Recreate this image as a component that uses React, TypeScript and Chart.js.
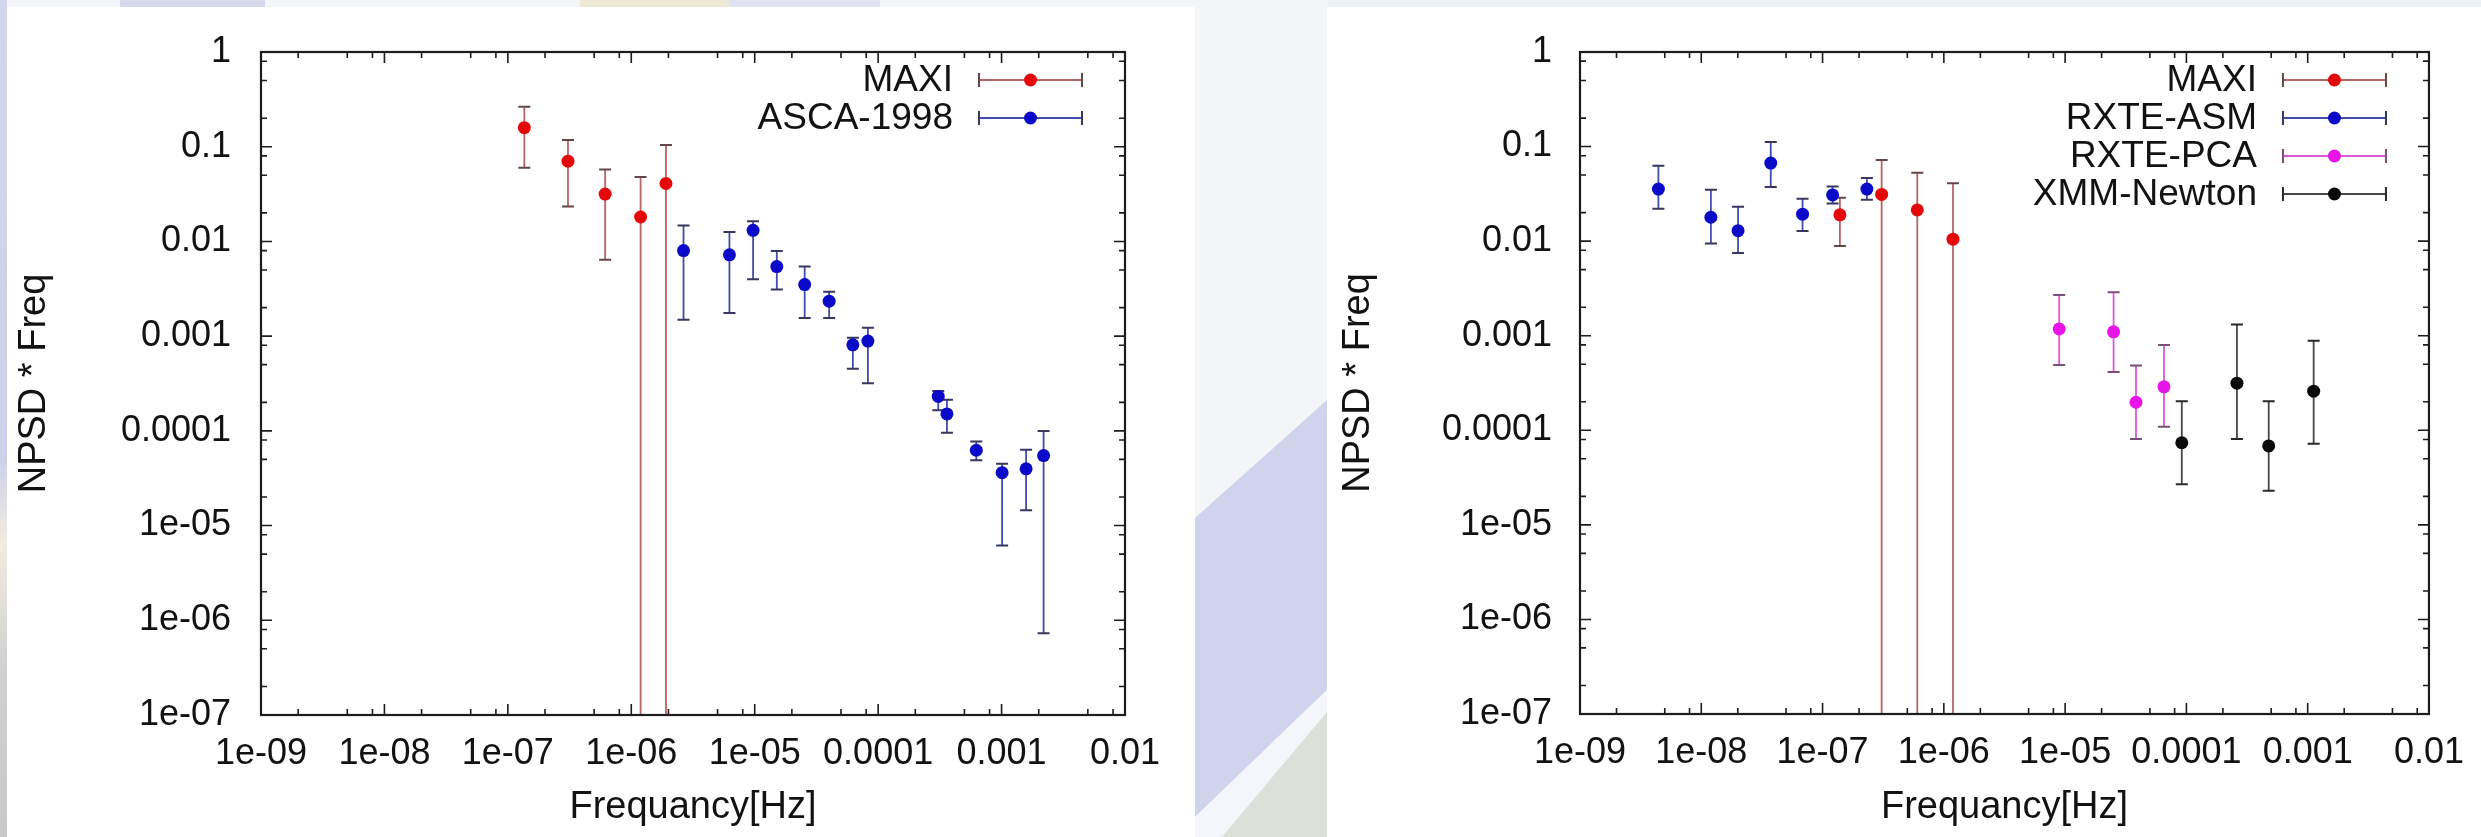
import React, { useEffect, useRef } from 'react';
import { Chart, registerables } from 'chart.js';

Chart.register(...registerables);

// ---------- axis ticks ----------
const xTickValues = [1e-9, 1e-8, 1e-7, 1e-6, 1e-5, 1e-4, 1e-3, 1e-2];
const xTickLabels = ['1e-09', '1e-08', '1e-07', '1e-06', '1e-05', '0.0001', '0.001', '0.01'];
const yTickValues = [1e-7, 1e-6, 1e-5, 1e-4, 1e-3, 1e-2, 1e-1, 1];
const yTickLabels = ['1e-07', '1e-06', '1e-05', '0.0001', '0.001', '0.01', '0.1', '1'];
const minorTickFactors = [2, 5, 8];

// Error bars whose lower end falls below the plotted range are given this value.
const OFF_SCALE_LOW = 1e-10;

// ---------- left panel ----------
const leftMaxiFreq = [1.36e-7, 3.07e-7, 6.14e-7, 1.19e-6, 1.91e-6];
const leftMaxiValue = [0.159, 0.0704, 0.0316, 0.0181, 0.0409];
const leftMaxiHigh = [0.264, 0.118, 0.0573, 0.0478, 0.104];
const leftMaxiLow = [0.06, 0.0234, 0.00642, OFF_SCALE_LOW, OFF_SCALE_LOW];

const ascaFreq = [2.65e-6, 6.24e-6, 9.7e-6, 1.51e-5, 2.54e-5, 4.01e-5, 6.24e-5, 8.26e-5, 3.07e-4, 3.61e-4, 6.24e-4, 1.01e-3, 1.58e-3, 2.19e-3];
const ascaValue = [0.008, 0.00722, 0.0131, 0.00543, 0.0035, 0.00234, 0.00081, 0.000887, 0.000231, 0.000151, 6.24e-5, 3.62e-5, 3.97e-5, 5.48e-5];
const ascaHigh = [0.0147, 0.0126, 0.0163, 0.0079, 0.00543, 0.00295, 0.00096, 0.00123, 0.000263, 0.000213, 7.7e-5, 4.5e-5, 6.3e-5, 9.95e-5];
const ascaLow = [0.00149, 0.00176, 0.00398, 0.00311, 0.00155, 0.00155, 0.000452, 0.000319, 0.000165, 9.57e-5, 4.9e-5, 6.15e-6, 1.45e-5, 7.3e-7];

// ---------- right panel ----------
const rightMaxiFreq = [1.39e-7, 3.07e-7, 6.04e-7, 1.19e-6];
const rightMaxiValue = [0.019, 0.0312, 0.0214, 0.0105];
const rightMaxiHigh = [0.0288, 0.0722, 0.053, 0.0409];
const rightMaxiLow = [0.00888, OFF_SCALE_LOW, OFF_SCALE_LOW, OFF_SCALE_LOW];

const asmFreq = [4.43e-9, 1.2e-8, 2.01e-8, 3.74e-8, 6.84e-8, 1.21e-7, 2.32e-7];
const asmValue = [0.0355, 0.0179, 0.0129, 0.0669, 0.0193, 0.0308, 0.0355];
const asmHigh = [0.0627, 0.035, 0.0231, 0.112, 0.0281, 0.0378, 0.0465];
const asmLow = [0.022, 0.00947, 0.0075, 0.0373, 0.0128, 0.025, 0.0274];

const pcaFreq = [8.93e-6, 2.51e-5, 3.84e-5, 6.53e-5];
const pcaValue = [0.00118, 0.0011, 0.000198, 0.000288];
const pcaHigh = [0.0027, 0.00288, 0.000483, 0.0008];
const pcaLow = [0.000489, 0.000413, 8.09e-5, 0.000109];

const xmmFreq = [9.16e-5, 2.61e-4, 4.77e-4, 1.12e-3];
const xmmValue = [7.38e-5, 0.000315, 6.84e-5, 0.000259];
const xmmHigh = [0.000203, 0.00131, 0.000203, 0.000887];
const xmmLow = [2.69e-5, 8.09e-5, 2.3e-5, 7.2e-5];

// ---------- styles ----------
const FONT = '"Liberation Sans", Arial, Helvetica, sans-serif';
const TEXT = '#121212';
const RED = { point: 'rgb(228,8,8)', bar: 'rgb(184,100,100)', cap: 'rgb(100,70,70)' };
const BLUE = { point: 'rgb(10,10,200)', bar: 'rgb(66,76,170)', cap: 'rgb(55,55,95)' };
const MAGENTA = { point: 'rgb(232,20,232)', bar: 'rgb(218,90,218)', cap: 'rgb(120,80,120)' };
const BLACK = { point: 'rgb(10,10,10)', bar: 'rgb(70,70,70)', cap: 'rgb(40,40,40)' };

function makeSeries(label: string, freq: number[], value: number[], low: number[], high: number[], c: any) {
  return {
    label,
    data: freq.map((f, i) => ({ x: f, y: value[i], low: low[i], high: high[i] })),
    pointRadius: 6.5,
    pointHoverRadius: 6.5,
    pointBorderWidth: 0,
    pointBackgroundColor: c.point,
    borderColor: c.point,
    backgroundColor: c.point,
    showLine: false,
    barColor: c.bar,
    capColor: c.cap,
  };
}

const errorBarPlugin = {
  id: 'errorBars',
  beforeDatasetsDraw(chart: any) {
    const { ctx, chartArea, scales } = chart;
    const xs = scales.x;
    const ys = scales.y;
    ctx.save();
    ctx.beginPath();
    ctx.rect(chartArea.left, chartArea.top, chartArea.right - chartArea.left, chartArea.bottom - chartArea.top);
    ctx.clip();
    chart.data.datasets.forEach((ds: any) => {
      ds.data.forEach((p: any) => {
        const px = xs.getPixelForValue(p.x);
        const pLow = ys.getPixelForValue(p.low);
        const pHigh = ys.getPixelForValue(p.high);
        ctx.strokeStyle = ds.barColor;
        ctx.lineWidth = 1.8;
        ctx.beginPath();
        ctx.moveTo(px, pLow);
        ctx.lineTo(px, pHigh);
        ctx.stroke();
        ctx.strokeStyle = ds.capColor;
        ctx.lineWidth = 2;
        ctx.beginPath();
        ctx.moveTo(px - 6, pHigh);
        ctx.lineTo(px + 6, pHigh);
        ctx.moveTo(px - 6, pLow);
        ctx.lineTo(px + 6, pLow);
        ctx.stroke();
      });
    });
    ctx.restore();
  },
};

const framePlugin = {
  id: 'gnuFrame',
  afterDraw(chart: any) {
    const { ctx, chartArea, scales } = chart;
    const { left, right, top, bottom } = chartArea;
    const xs = scales.x;
    const ys = scales.y;
    ctx.save();
    ctx.strokeStyle = '#1c1c1c';
    ctx.lineWidth = 2.2;
    ctx.strokeRect(left, top, right - left, bottom - top);
    ctx.lineWidth = 1.6;
    ctx.beginPath();
    const tickX = (v: number, len: number) => {
      const px = xs.getPixelForValue(v);
      if (px < left - 0.5 || px > right + 0.5) return;
      ctx.moveTo(px, bottom);
      ctx.lineTo(px, bottom - len);
      ctx.moveTo(px, top);
      ctx.lineTo(px, top + len);
    };
    const tickY = (v: number, len: number) => {
      const py = ys.getPixelForValue(v);
      if (py < top - 0.5 || py > bottom + 0.5) return;
      ctx.moveTo(left, py);
      ctx.lineTo(left + len, py);
      ctx.moveTo(right, py);
      ctx.lineTo(right - len, py);
    };
    xTickValues.forEach((v, i) => {
      tickX(v, 11);
      if (i < xTickValues.length - 1) minorTickFactors.forEach((f) => tickX(v * f, 6));
    });
    yTickValues.forEach((v, i) => {
      tickY(v, 11);
      if (i < yTickValues.length - 1) minorTickFactors.forEach((f) => tickY(v * f, 6));
    });
    ctx.stroke();
    ctx.restore();
  },
};

const keyPlugin = {
  id: 'gnuKey',
  afterDraw(chart: any) {
    const { ctx, chartArea } = chart;
    ctx.save();
    ctx.font = `37px ${FONT}`;
    ctx.textAlign = 'right';
    ctx.textBaseline = 'middle';
    chart.data.datasets.forEach((ds: any, i: number) => {
      const y = chartArea.top + 28 + i * 38;
      const textRight = chartArea.right - 172;
      const x0 = chartArea.right - 146;
      const x1 = chartArea.right - 43;
      ctx.fillStyle = TEXT;
      ctx.fillText(ds.label, textRight, y + 1);
      ctx.strokeStyle = ds.barColor;
      ctx.lineWidth = 2;
      ctx.beginPath();
      ctx.moveTo(x0, y);
      ctx.lineTo(x1, y);
      ctx.stroke();
      ctx.strokeStyle = ds.capColor;
      ctx.beginPath();
      ctx.moveTo(x0, y - 7);
      ctx.lineTo(x0, y + 7);
      ctx.moveTo(x1, y - 7);
      ctx.lineTo(x1, y + 7);
      ctx.stroke();
      ctx.fillStyle = ds.pointBackgroundColor;
      ctx.beginPath();
      ctx.arc((x0 + x1) / 2, y, 6.5, 0, Math.PI * 2);
      ctx.fill();
    });
    ctx.restore();
  },
};

function makeConfig(datasets: any[], geo: any) {
  return {
    type: 'scatter',
    data: { datasets },
    plugins: [errorBarPlugin, framePlugin, keyPlugin],
    options: {
      animation: false,
      responsive: false,
      maintainAspectRatio: false,
      events: [],
      layout: { padding: { left: 0, right: geo.padRight, top: geo.padTop, bottom: 0 } },
      plugins: { legend: { display: false }, tooltip: { enabled: false } },
      scales: {
        x: {
          type: 'logarithmic',
          position: 'bottom',
          min: 1e-9,
          max: 1e-2,
          grid: { display: false, drawTicks: false },
          border: { display: false },
          afterBuildTicks: (s: any) => {
            s.ticks = xTickValues.map((v) => ({ value: v }));
          },
          afterFit: (s: any) => {
            s.height = geo.xHeight;
          },
          ticks: {
            autoSkip: false,
            maxRotation: 0,
            minRotation: 0,
            padding: 17,
            color: TEXT,
            font: { family: FONT, size: 36 },
            callback: (_v: any, i: number) => xTickLabels[i],
          },
          title: {
            display: true,
            text: 'Frequancy[Hz]',
            color: TEXT,
            font: { family: FONT, size: 38 },
            padding: { top: 0, bottom: 7 },
          },
        },
        y: {
          type: 'logarithmic',
          position: 'left',
          min: 1e-7,
          max: 1,
          grid: { display: false, drawTicks: false },
          border: { display: false },
          afterBuildTicks: (s: any) => {
            s.ticks = yTickValues.map((v) => ({ value: v }));
          },
          afterFit: (s: any) => {
            s.width = geo.yWidth;
          },
          ticks: {
            autoSkip: false,
            padding: geo.yTickPad,
            color: TEXT,
            font: { family: FONT, size: 36 },
            callback: (_v: any, i: number) => yTickLabels[i],
          },
          title: {
            display: true,
            text: 'NPSD * Freq',
            color: TEXT,
            font: { family: FONT, size: 38 },
            padding: { top: geo.yTitlePad, bottom: 0 },
          },
        },
      },
    },
  };
}

function PanelChart({ datasets, geo, width, height }: any) {
  const ref = useRef<HTMLCanvasElement | null>(null);
  useEffect(() => {
    if (!ref.current) return;
    const chart = new Chart(ref.current, makeConfig(datasets, geo) as any);
    return () => chart.destroy();
  }, []);
  return <canvas ref={ref} width={width} height={height} style={{ width, height, display: 'block' }} />;
}

export default function App() {
  useEffect(() => {
    document.body.style.margin = '0';
  }, []);

  const leftSets = [
    makeSeries('MAXI', leftMaxiFreq, leftMaxiValue, leftMaxiLow, leftMaxiHigh, RED),
    makeSeries('ASCA-1998', ascaFreq, ascaValue, ascaLow, ascaHigh, BLUE),
  ];
  const rightSets = [
    makeSeries('MAXI', rightMaxiFreq, rightMaxiValue, rightMaxiLow, rightMaxiHigh, RED),
    makeSeries('RXTE-ASM', asmFreq, asmValue, asmLow, asmHigh, BLUE),
    makeSeries('RXTE-PCA', pcaFreq, pcaValue, pcaLow, pcaHigh, MAGENTA),
    makeSeries('XMM-Newton', xmmFreq, xmmValue, xmmLow, xmmHigh, BLACK),
  ];

  return (
    <div style={{ position: 'absolute', left: 0, top: 0, width: 2481, height: 837, overflow: 'hidden', background: '#f3f5f9' }}>
      <svg width={2481} height={837} style={{ position: 'absolute', left: 0, top: 0 }}>
        <defs>
          <linearGradient id="edge" x1="0" y1="0" x2="0" y2="1">
            <stop offset="0" stopColor="#d3d5ec" />
            <stop offset="0.55" stopColor="#cfd1ea" />
            <stop offset="0.65" stopColor="#f1ece0" />
            <stop offset="0.8" stopColor="#d0d0d0" />
            <stop offset="1" stopColor="#c9c9c9" />
          </linearGradient>
        </defs>
        <rect x={0} y={0} width={2481} height={837} fill="#f3f5f9" />
        <rect x={0} y={0} width={7} height={837} fill="url(#edge)" />
        <rect x={120} y={0} width={145} height={7} fill="#d6d8ee" />
        <rect x={580} y={0} width={150} height={7} fill="#efe8d6" />
        <rect x={730} y={0} width={150} height={7} fill="#e1e3f2" />
        <rect x={1327} y={0} width={1154} height={7} fill="#edf2f7" />
        <polygon points="1195,518 1327,400 1327,690 1195,817" fill="#d0d3ec" />
        <polygon points="1195,817 1327,690 1327,712 1222,837 1195,837" fill="#f4f6fb" />
        <polygon points="1222,837 1327,712 1327,837" fill="#dbe0d8" />
        <rect x={7} y={7} width={1188} height={830} fill="#ffffff" />
        <rect x={1327} y={7} width={1154} height={830} fill="#ffffff" />
      </svg>
      <div style={{ position: 'absolute', left: 0, top: 0 }}>
        <PanelChart
          datasets={leftSets}
          width={1240}
          height={837}
          geo={{ padRight: 115, padTop: 52, xHeight: 122, yWidth: 261, yTickPad: 30, yTitlePad: 12 }}
        />
      </div>
      <div style={{ position: 'absolute', left: 1240, top: 0 }}>
        <PanelChart
          datasets={rightSets}
          width={1241}
          height={837}
          geo={{ padRight: 34, padTop: 52, xHeight: 123, yWidth: 340, yTickPad: 28, yTitlePad: 96 }}
        />
      </div>
    </div>
  );
}
